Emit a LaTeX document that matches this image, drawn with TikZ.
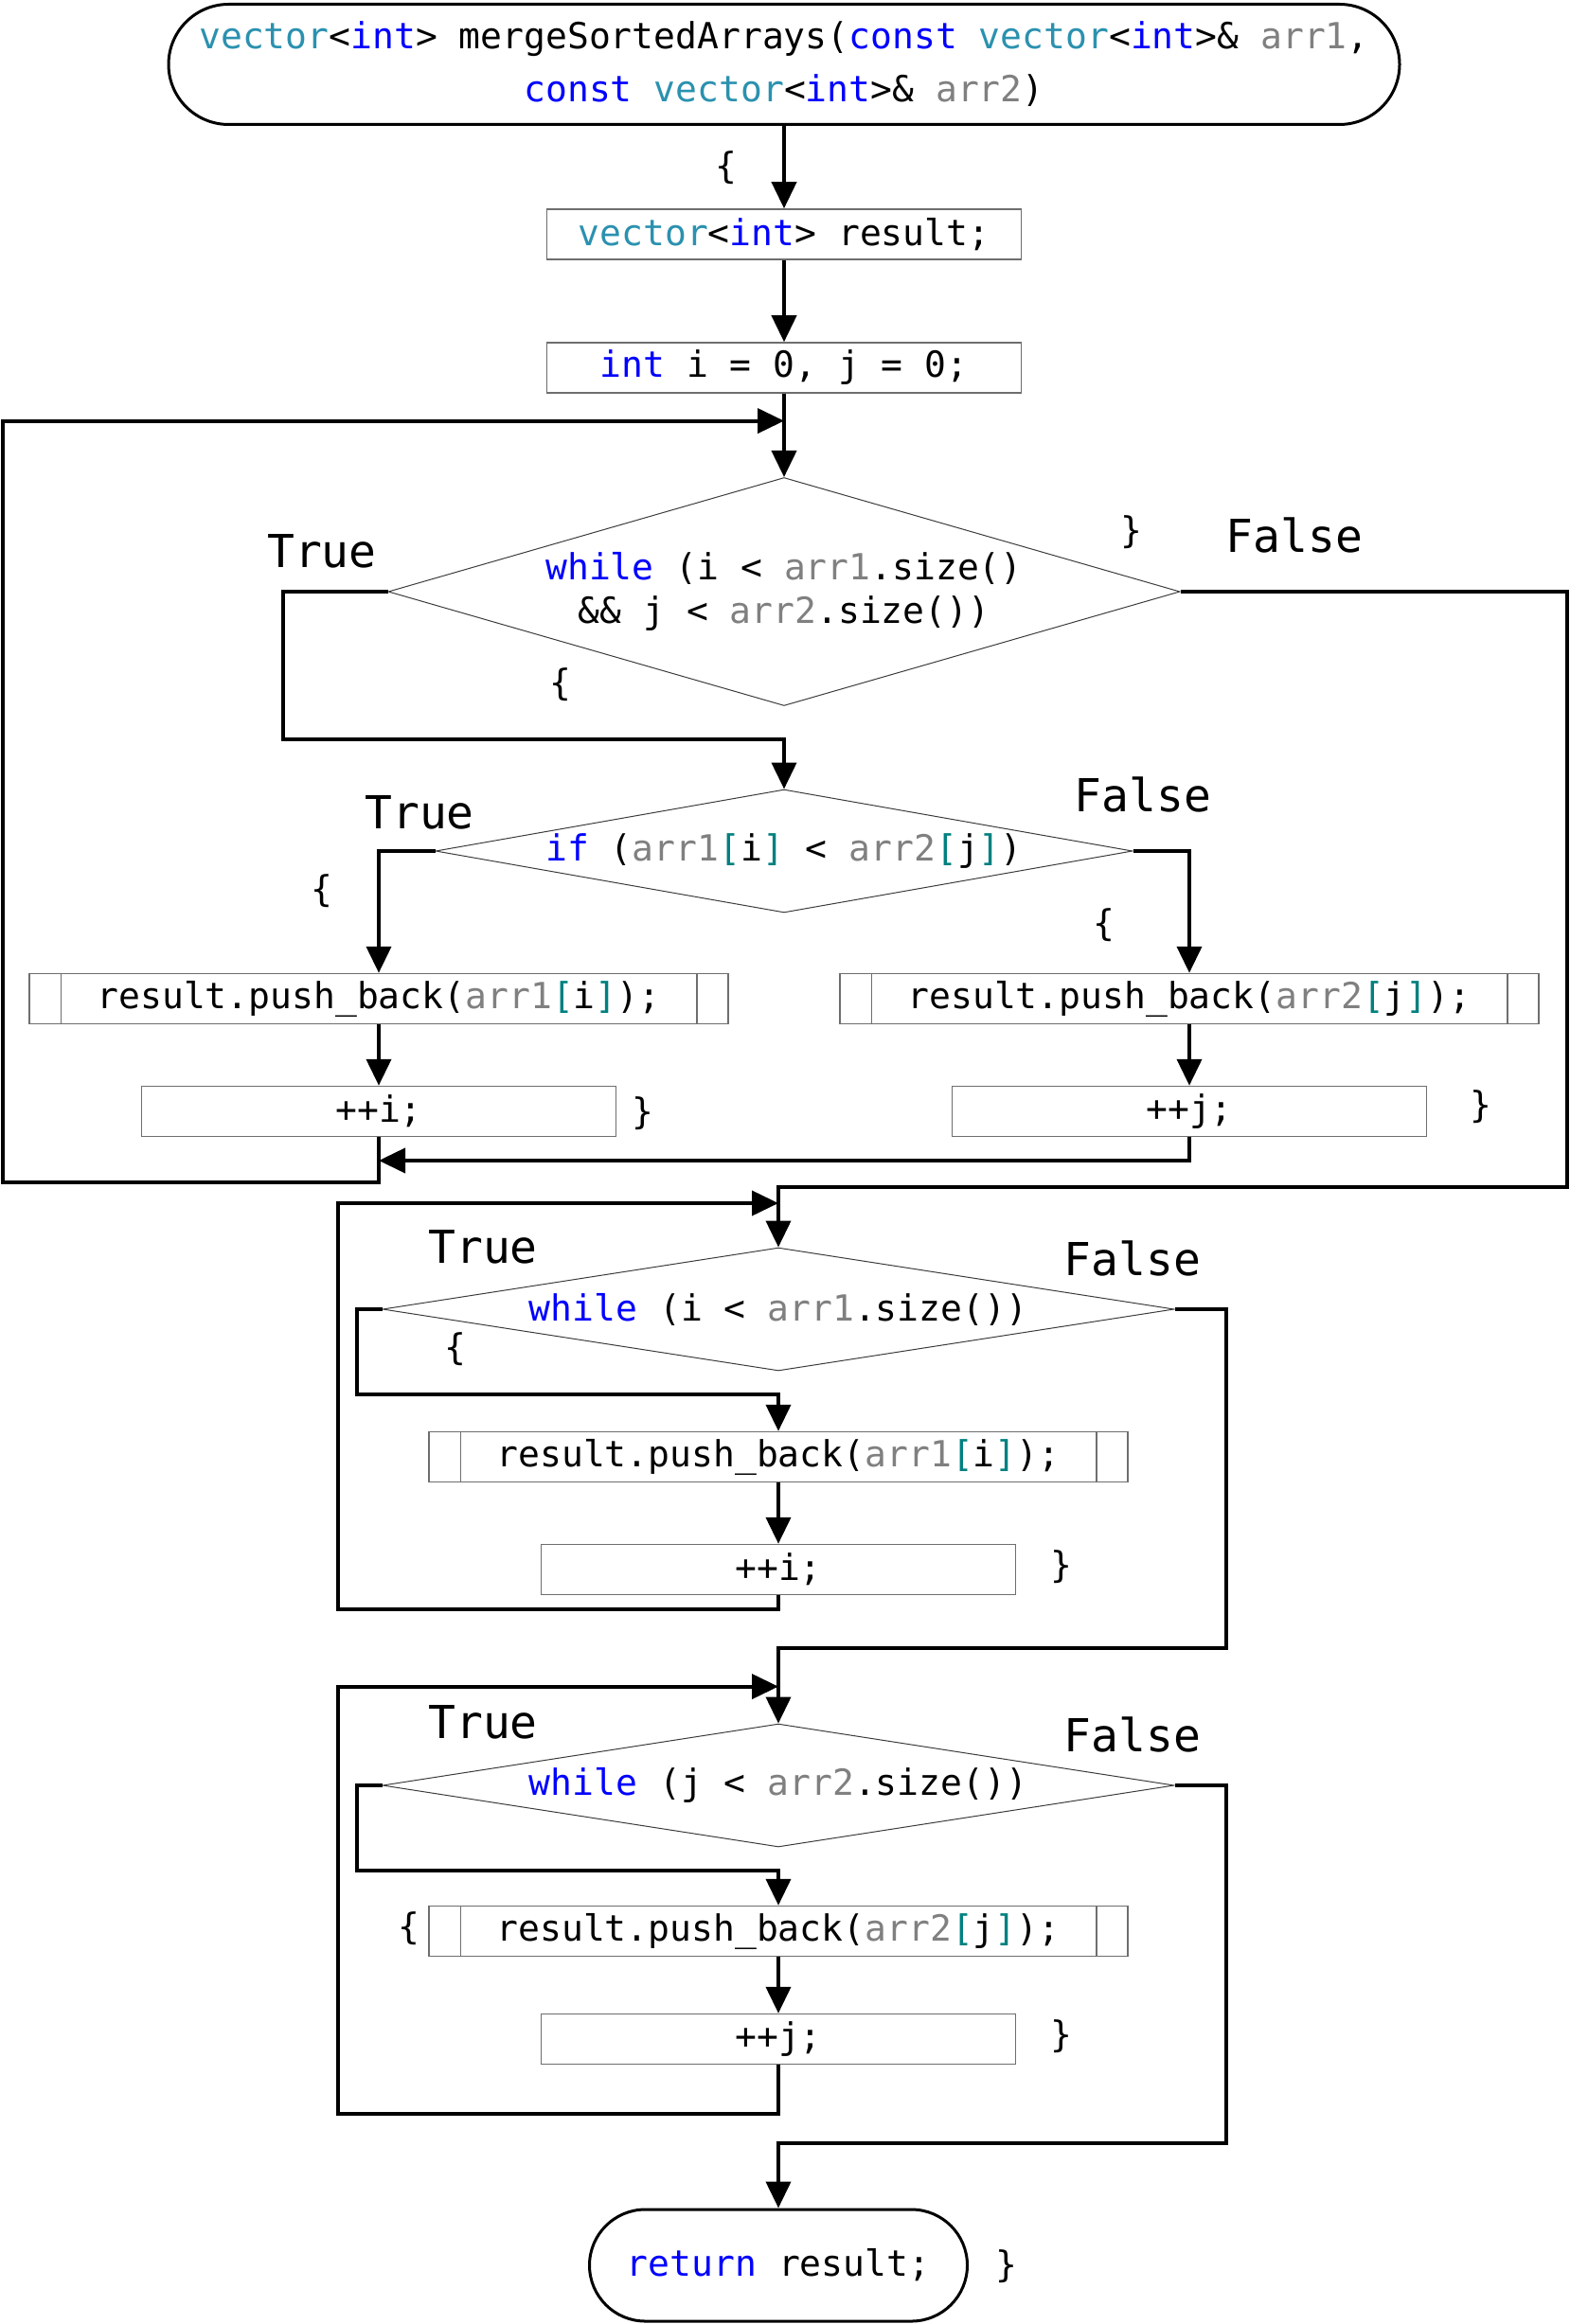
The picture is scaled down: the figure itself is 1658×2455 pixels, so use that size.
\documentclass[tikz,border=0pt]{standalone}
\usepackage{fontspec}
\usetikzlibrary{arrows.meta,shapes.geometric,shapes.misc}
\newfontfamily\codefont{DejaVu Sans Mono}
\definecolor{typec}{RGB}{43,145,175}
\definecolor{kwc}{RGB}{0,0,255}
\definecolor{parc}{RGB}{128,128,128}
\definecolor{brc}{RGB}{0,128,128}
\definecolor{boxgray}{RGB}{110,110,110}
\definecolor{diagray}{RGB}{60,60,60}
% syntax colouring helpers
\newcommand\cTy[1]{\textcolor{typec}{#1}}
\newcommand\cKw[1]{\textcolor{kwc}{#1}}
\newcommand\cPa[1]{\textcolor{parc}{#1}}
\newcommand\cBr[1]{\textcolor{brc}{#1}}
\begin{document}
\begin{tikzpicture}[x=0.5pt,y=-0.5pt,
  code/.style={font=\codefont\fontsize{19}{23}\selectfont, inner sep=0pt},
  stmt/.style={code, draw=boxgray, line width=0.75pt, minimum width=250.5pt, minimum height=26.5pt},
  call/.style={stmt, minimum width=369pt},
  inner/.style={draw=boxgray, line width=0.75pt},
  cond/.style={diamond, draw=diagray, line width=0.5pt, inner sep=0pt},
  term/.style={code, rounded rectangle, draw, line width=1.5pt, align=center},
  flow/.style={line width=2pt, line join=miter, -{Triangle[length=14pt,width=13pt]}},
  lbl/.style={font=\codefont\fontsize{24}{28}\selectfont, inner sep=0pt},
  brace/.style={code}]
\useasboundingbox (0,0) rectangle (1658,2455);

% function header
\node[term, minimum width=650pt, minimum height=63.5pt,
      font=\codefont\fontsize{19}{28}\selectfont] (t0) at (828,68)
  {\cTy{vector}<\cKw{int}> mergeSortedArrays(\cKw{const} \cTy{vector}<\cKw{int}>\& \cPa{arr1},\\
   \cKw{const} \cTy{vector}<\cKw{int}>\& \cPa{arr2})};
\node[brace] (o0) at (767,177) {\{};

\node[stmt] (b1) at (828,247.5) {\cTy{vector}<\cKw{int}> result;};
\node[stmt] (b2) at (828,388.5) {\cKw{int} i = 0, j = 0;};

% main merge loop
\node[cond, minimum width=418pt, minimum height=120.5pt] (d1) at (828,625) {};
\node[code, align=center] (d1t) at (d1.center)
  {\cKw{while} (i < \cPa{arr1}.size()\\\&\& j < \cPa{arr2}.size())};
\node[lbl] (d1y) at (340,582) {True};
\node[lbl] (d1n) at (1367,565) {False};
\node[brace] (o1) at (592,723) {\{};
\node[brace] (e1) at (1195,562) {\}};

\node[cond, minimum width=368pt, minimum height=65pt] (d2) at (828,899) {};
\node[code] (d2t) at (d2.center)
  {\cKw{if} (\cPa{arr1}\cBr{[}i\cBr{]} < \cPa{arr2}\cBr{[}j\cBr{]})};
\node[lbl] (d2y) at (443,858) {True};
\node[lbl] (d2n) at (1207,839) {False};
\node[brace] (o2) at (340,941) {\{};
\node[brace] (o3) at (1166,977) {\{};

\node[call] (p1) at (400,1055) {result.push\_back(\cPa{arr1}\cBr{[}i\cBr{]});};
\node[stmt] (i1) at (400,1174) {++i;};
\node[brace] (e2) at (679,1176) {\}};
\node[call] (p2) at (1256,1055) {result.push\_back(\cPa{arr2}\cBr{[}j\cBr{]});};
\node[stmt] (i2) at (1256,1174) {++j;};
\node[brace] (e3) at (1564,1169) {\}};

% remaining elements of arr1
\node[cond, minimum width=418pt, minimum height=65pt] (d3) at (822,1383) {};
\node[code] (d3t) at (d3.center) {\cKw{while} (i < \cPa{arr1}.size())};
\node[lbl] (d3y) at (510,1317) {True};
\node[lbl] (d3n) at (1196,1329) {False};
\node[brace] (o4) at (481,1425) {\{};
\node[call] (p3) at (822,1539) {result.push\_back(\cPa{arr1}\cBr{[}i\cBr{]});};
\node[stmt] (i3) at (822,1658) {++i;};
\node[brace] (e4) at (1121,1655) {\}};

% remaining elements of arr2
\node[cond, minimum width=418pt, minimum height=65pt] (d4) at (822,1886) {};
\node[code] (d4t) at (d4.center) {\cKw{while} (j < \cPa{arr2}.size())};
\node[lbl] (d4y) at (510,1819) {True};
\node[lbl] (d4n) at (1196,1832) {False};
\node[brace] (o5) at (432,2037) {\{};
\node[call] (p4) at (822,2040) {result.push\_back(\cPa{arr2}\cBr{[}j\cBr{]});};
\node[stmt] (i4) at (822,2154) {++j;};
\node[brace] (e5) at (1121,2151) {\}};

\node[term, minimum width=199.5pt, minimum height=59pt] (t1) at (822,2393)
  {\cKw{return} result;};
\node[brace] (e6) at (1063,2394) {\}};

% side bars of the call boxes
\foreach \p in {p1,p2,p3,p4}{
  \draw[inner] ([xshift=17pt]\p.north west) -- ([xshift=17pt]\p.south west);
  \draw[inner] ([xshift=-17pt]\p.north east) -- ([xshift=-17pt]\p.south east);
}

% junctions and corners
\coordinate (m1) at (828,444.6);
\coordinate (r1) at (3,1249);
\coordinate (c1) at (299,781);
\coordinate (c2) at (1655,1254);
\coordinate (m2) at (400,1226);
\coordinate (m3) at (822,1271);
\coordinate (r3) at (357,1700);
\coordinate (c3) at (377,1473);
\coordinate (c4) at (1295,1741);
\coordinate (m4) at (822,1781.6);
\coordinate (r4) at (357,2232.6);
\coordinate (c5) at (377,1976);
\coordinate (c6) at (1295,2264);

% connectors
\draw[flow] (t0.south) -- (b1.north);
\draw[flow] (b1.south) -- (b2.north);
\draw[flow] (b2.south) -- (d1.north);
\draw[flow] (d1.west) -| (c1) -| (d2.north);
\draw[flow] (d1.east) -| (c2) -| (d3.north);
\draw[flow] (d2.west) -| (p1.north);
\draw[flow] (d2.east) -| (p2.north);
\draw[flow] (p1.south) -- (i1.north);
\draw[flow] (p2.south) -- (i2.north);
\draw[flow] (i2.south) |- (m2);
\draw[flow] (i1.south) |- (r1) |- (m1);

\draw[flow] (d3.west) -| (c3) -| (p3.north);
\draw[flow] (p3.south) -- (i3.north);
\draw[flow] (i3.south) |- (r3) |- (m3);
\draw[flow] (d3.east) -| (c4) -| (d4.north);

\draw[flow] (d4.west) -| (c5) -| (p4.north);
\draw[flow] (p4.south) -- (i4.north);
\draw[flow] (i4.south) |- (r4) |- (m4);
\draw[flow] (d4.east) -| (c6) -| (t1.north);
\end{tikzpicture}
\end{document}
